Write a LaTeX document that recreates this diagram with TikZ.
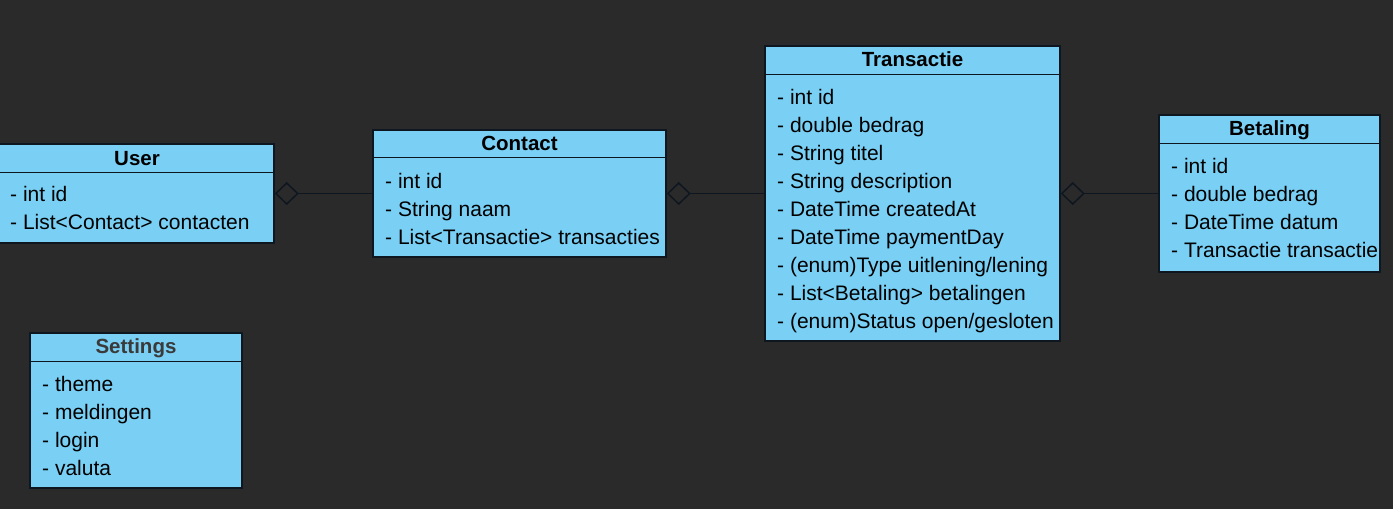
\documentclass[tikz,border=0pt]{standalone}
\usepackage{fontspec}
\setmainfont{Liberation Sans}
\usetikzlibrary{arrows.meta,calc}
\definecolor{bg}{HTML}{2A2A2A}
\definecolor{boxfill}{HTML}{79CFF4}
\definecolor{edge}{HTML}{0E1620}
\definecolor{graytitle}{HTML}{3A3A3A}
\tikzset{
  cls/.style={draw=edge, fill=boxfill, line width=1.5pt, inner sep=0pt},
  sep/.style={draw=edge, line width=1.5pt},
  ctitle/.style={font=\fontsize{20.5}{24}\selectfont\bfseries, text=black, inner sep=0pt, anchor=base},
  row/.style={font=\fontsize{21}{25}\selectfont, text=black, inner sep=0pt, anchor=base west},
  agg/.style={draw=edge, line width=1.6pt, -{Diamond[open, length=24pt, width=23pt, line width=1.5pt]}},
}
\begin{document}
\begin{tikzpicture}[x=1pt, y=-1pt]
\fill[bg] (0,0) rectangle (1393,509);
\useasboundingbox (0,0) rectangle (1393,509);

% User
\node[cls, minimum width=276pt, minimum height=99pt] (user) at (136,193.5) {};
\draw[sep] ($(user.north west)+(0,29)$) -- ($(user.north east)+(0,29)$);
\node[ctitle] (userT) at ($(user.north)+(1,22)$) {User};
\node[row] (u1) at (10,201.5) {- int id};
\node[row] (u2) at (10,229.5) {- List<Contact> contacten};

% Contact
\node[cls, minimum width=293pt, minimum height=127pt] (contact) at (519.5,193.5) {};
\draw[sep] ($(contact.north west)+(0,28)$) -- ($(contact.north east)+(0,28)$);
\node[ctitle] (contactT) at ($(contact.north)+(0,21.5)$) {Contact};
\node[row] (c1) at (385,188.5) {- int id};
\node[row] (c2) at (385,216.5) {- String naam};
\node[row] (c3) at (385,244.5) {- List<Transactie> transacties};

% Transactie
\node[cls, minimum width=295pt, minimum height=295pt] (trans) at (912.5,193.5) {};
\draw[sep] ($(trans.north west)+(0,29)$) -- ($(trans.north east)+(0,29)$);
\node[ctitle] (transT) at ($(trans.north)+(0,21.5)$) {Transactie};
\node[row] (t1) at (777,104.5) {- int id};
\node[row] (t2) at (777,132.5) {- double bedrag};
\node[row] (t3) at (777,160.5) {- String titel};
\node[row] (t4) at (777,188.5) {- String description};
\node[row] (t5) at (777,216.5) {- DateTime createdAt};
\node[row] (t6) at (777,244.5) {- DateTime paymentDay};
\node[row] (t7) at (777,272.5) {- (enum)Type uitlening/lening};
\node[row] (t8) at (777,300.5) {- List<Betaling> betalingen};
\node[row] (t9) at (777,328.5) {- (enum)Status open/gesloten};

% Betaling
\node[cls, minimum width=221pt, minimum height=157pt] (betaling) at (1269.5,193.5) {};
\draw[sep] ($(betaling.north west)+(0,29)$) -- ($(betaling.north east)+(0,29)$);
\node[ctitle] (betalingT) at ($(betaling.north)+(0,21.5)$) {Betaling};
\node[row] (b1) at (1171,173.5) {- int id};
\node[row] (b2) at (1171,201.5) {- double bedrag};
\node[row] (b3) at (1171,229.5) {- DateTime datum};
\node[row] (b4) at (1171,257.5) {- Transactie transactie};

% Settings
\node[cls, minimum width=212pt, minimum height=155pt] (settings) at (136,410.5) {};
\draw[sep] ($(settings.north west)+(0,29)$) -- ($(settings.north east)+(0,29)$);
\node[ctitle, text=graytitle] (settingsT) at ($(settings.north)+(0,21.5)$) {Settings};
\node[row] (s1) at (42,391.5) {- theme};
\node[row] (s2) at (42,419.5) {- meldingen};
\node[row] (s3) at (42,447.5) {- login};
\node[row] (s4) at (42,475.5) {- valuta};

% Aggregations
\draw[agg] (contact.west) -- (user.east);
\draw[agg] (trans.west) -- (contact.east);
\draw[agg] (betaling.west) -- (trans.east);
\end{tikzpicture}
\end{document}
